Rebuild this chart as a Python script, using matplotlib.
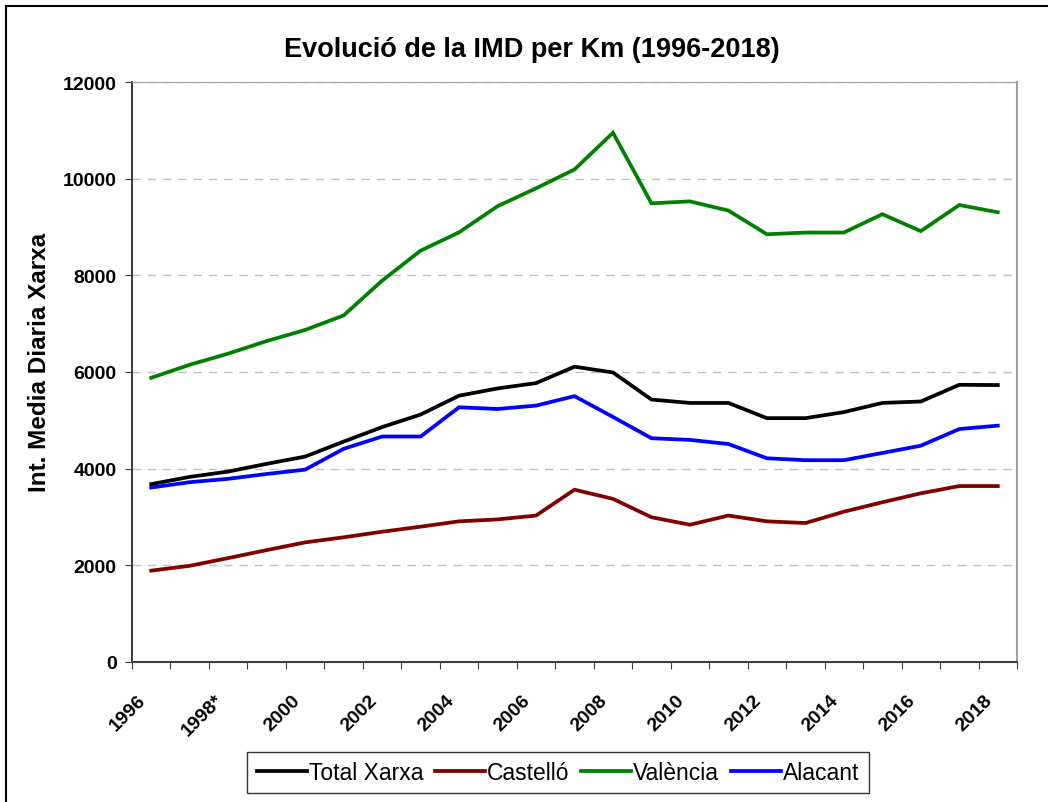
import numpy as np
import matplotlib
import matplotlib.pyplot as plt
from matplotlib.patches import Rectangle

matplotlib.rcParams['font.family'] = ['Liberation Sans', 'DejaVu Sans']

years = ['1996', '1997', '1998*', '1999', '2000', '2001', '2002', '2003', '2004', '2005', '2006',
         '2007', '2008', '2009', '2010', '2011', '2012', '2013', '2014', '2015', '2016', '2017', '2018']

total = [3680, 3830, 3940, 4100, 4250, 4560, 4860, 5120, 5510, 5660, 5770,
         6110, 5990, 5430, 5360, 5360, 5045, 5045, 5170, 5360, 5390, 5735, 5730]
castello = [1890, 1990, 2150, 2315, 2475, 2580, 2695, 2800, 2910, 2950, 3030,
            3565, 3375, 2995, 2840, 3030, 2910, 2875, 3110, 3305, 3490, 3640, 3640]
valencia = [5880, 6150, 6380, 6640, 6870, 7170, 7890, 8510, 8890, 9430, 9800,
            10190, 10950, 9490, 9530, 9340, 8850, 8885, 8885, 9265, 8915, 9455, 9305]
alacant = [3610, 3720, 3790, 3890, 3980, 4410, 4665, 4665, 5270, 5235, 5305,
           5500, 5070, 4630, 4595, 4510, 4215, 4175, 4175, 4325, 4475, 4820, 4890]

series = [('Total Xarxa', total, 'black'),
          ('Castelló', castello, '#800000'),
          ('València', valencia, '#008000'),
          ('Alacant', alacant, '#0000ff')]

fig = plt.figure(figsize=(10.48, 8.03), dpi=100)
ax = fig.add_axes([132/1048, 1 - 663/803, (1017-132)/1048, (663-83)/803])

x = np.arange(len(years)) + 0.5
for name, vals, col in series:
    ax.plot(x, vals, color=col, lw=2.7, label=name, solid_joinstyle='miter')

ax.set_xlim(0, len(years))
ax.set_ylim(0, 12000)
ax.set_yticks(np.arange(0, 12001, 2000))
ax.set_yticklabels([str(v) for v in range(0, 12001, 2000)], fontsize=14, fontweight='bold')
ax.yaxis.grid(True, color='#c0c0c0', ls=(0, (6, 5)), lw=1)

# category boundaries get the tick marks, labels sit near category centres
ax.set_xticks(np.arange(len(years) + 1))
ax.set_xticklabels([])
ax.set_xticks(x[::2] - 0.36, minor=True)
ax.set_xticklabels(years[::2], minor=True, rotation=45, ha='right', va='top',
                   rotation_mode='anchor', fontsize=14, fontweight='bold')
ax.tick_params(axis='x', which='minor', length=0, pad=21)
ax.tick_params(axis='x', which='major', length=5, direction='out', color='#404040')
ax.tick_params(axis='y', length=5, direction='out', color='#404040', pad=6)

ax.spines['left'].set_color('#404040')
ax.spines['bottom'].set_color('#404040')
ax.spines['left'].set_linewidth(1.5)
ax.spines['bottom'].set_linewidth(1.5)
ax.spines['top'].set_color('#a0a0a0')
ax.spines['right'].set_color('#a0a0a0')
ax.spines['right'].set_linewidth(1.5)

ax.set_ylabel('Int. Media Diaria Xarxa', fontsize=17.5, fontweight='bold')
ax.yaxis.set_label_coords(-0.091, 0.519)
fig.text(532/1048, 1 - 50/803, 'Evolució de la IMD per Km (1996-2018)', ha='center', va='center',
         fontsize=19.5, fontweight='bold')

leg = fig.legend(loc='center', bbox_to_anchor=(558/1048, 1 - 773.5/803), ncol=4, fontsize=16.5,
                 frameon=True, fancybox=False, edgecolor='black', handlelength=2.18,
                 handletextpad=0.1, columnspacing=0.5, borderpad=0.4)
leg.get_frame().set_linewidth(1)

fig.patches.append(Rectangle((6/1048, -0.1), 1.2, 1 - 7/803 + 0.1, transform=fig.transFigure,
                             fill=False, edgecolor='black', lw=1.5))

fig.savefig('out.png', dpi=100)
